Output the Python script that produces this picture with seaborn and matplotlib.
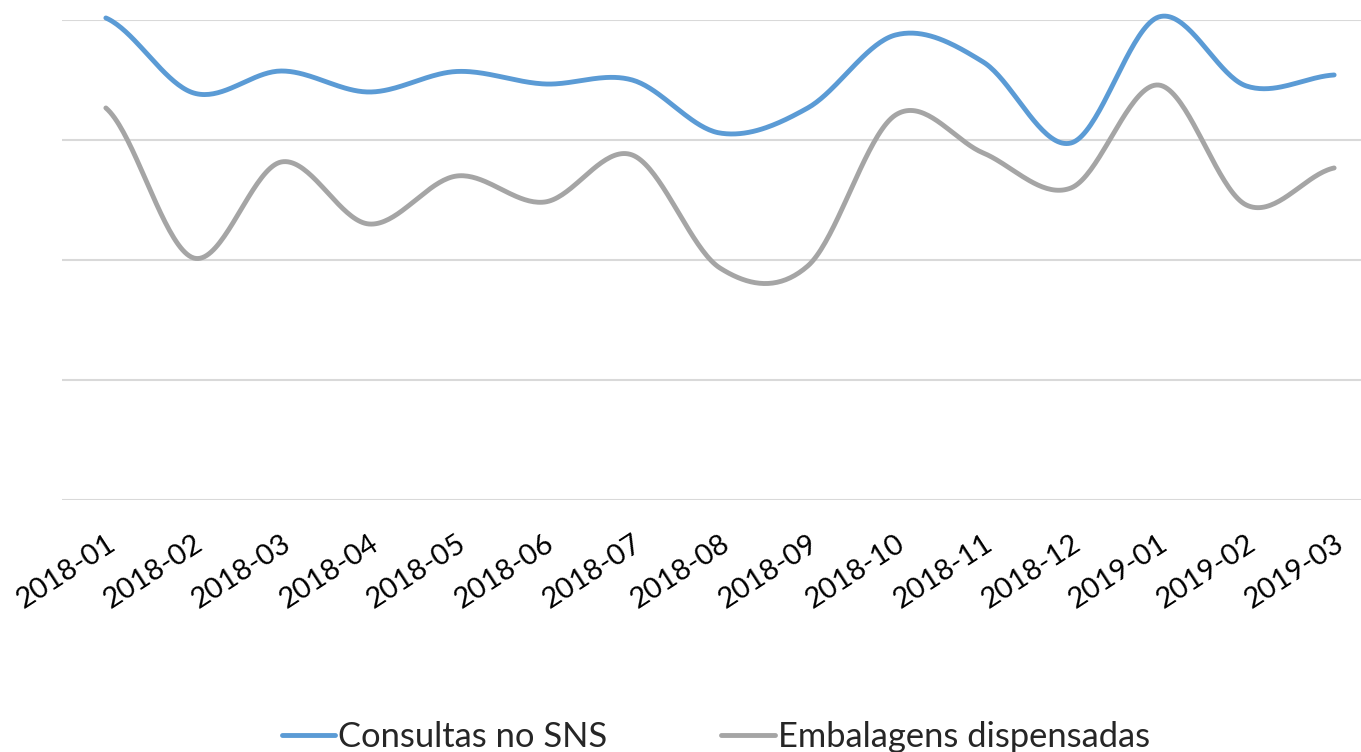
import numpy as np
import pandas as pd
import matplotlib
matplotlib.use("Agg")
import matplotlib.pyplot as plt
import seaborn as sns

months = ["2018-01", "2018-02", "2018-03", "2018-04", "2018-05", "2018-06",
          "2018-07", "2018-08", "2018-09", "2018-10", "2018-11", "2018-12",
          "2019-01", "2019-02", "2019-03"]
consultas = [4.017, 3.392, 3.575, 3.400, 3.571, 3.467, 3.500, 3.058,
             3.267, 3.875, 3.650, 2.975, 4.025, 3.450, 3.542]
embalagens = [3.267, 2.017, 2.817, 2.300, 2.700, 2.483, 2.875, 1.933,
              1.950, 3.208, 2.892, 2.600, 3.458, 2.458, 2.767]
series_names = ["Consultas no SNS", "Embalagens dispensadas"]
colors = ["#5b9bd5", "#a5a5a5"]


def smooth(vals, n=40):
    """Catmull-Rom (Excel-like) smoothing of a categorical series for rendering."""
    p = np.asarray(vals, dtype=float)
    m = len(p)
    xs, ys = [], []
    for i in range(m - 1):
        p0 = p[i - 1] if i > 0 else p[i]
        p1, p2 = p[i], p[i + 1]
        p3 = p[i + 2] if i + 2 < m else p[i + 1]
        t = np.linspace(0, 1, n, endpoint=False)
        c1 = p1 + (p2 - p0) / 6
        c2 = p2 - (p3 - p1) / 6
        y = ((1 - t) ** 3 * p1 + 3 * (1 - t) ** 2 * t * c1
             + 3 * (1 - t) * t ** 2 * c2 + t ** 3 * p2)
        xs.extend(i + t)
        ys.extend(y)
    xs.append(m - 1)
    ys.append(p[-1])
    return np.array(xs), np.array(ys)


frames = []
for name, vals in zip(series_names, [consultas, embalagens]):
    sx, sy = smooth(vals)
    frames.append(pd.DataFrame({"x": sx, "v": sy, "serie": name}))
df = pd.concat(frames, ignore_index=True)

sns.set_theme(style="white")
plt.rcParams["font.family"] = ["Lato", "DejaVu Sans"]

fig = plt.figure(figsize=(13.61, 7.52), dpi=100)
ax = fig.add_axes([62 / 1361, 252 / 752, 1316 / 1361, 480 / 752])

sns.lineplot(data=df, x="x", y="v", hue="serie", palette=colors,
             linewidth=3.5, sort=False, estimator=None, ax=ax, legend=True)
for ln in ax.lines:
    ln.set_clip_on(False)
    ln.set_solid_capstyle("round")

ax.set_xlim(-0.5, 14.5)
ax.set_ylim(0, 4)
ax.set_yticks([0, 1, 2, 3, 4])
ax.set_yticklabels([])
ax.yaxis.grid(True, color="#d9d9d9", linewidth=1.5)
ax.xaxis.grid(False)
ax.set_axisbelow(True)
for s in ax.spines.values():
    s.set_visible(False)
ax.set_xticks(range(len(months)))
ax.set_xticklabels(months, rotation=33, ha="right", va="top",
                   rotation_mode="anchor", fontsize=21, color="#000000")
ax.tick_params(axis="both", length=0)
ax.tick_params(axis="x", pad=22)
ax.set_xlabel("")
ax.set_ylabel("")

handles, labels = ax.get_legend_handles_labels()
if ax.legend_:
    ax.legend_.remove()
leg = fig.legend(handles, labels, loc="center", bbox_to_anchor=(0.526, 0.02),
                 ncol=2, frameon=False, fontsize=24.8, handlelength=1.55,
                 handletextpad=0.1, columnspacing=3.3)
for h in leg.get_lines():
    h.set_linewidth(3.5)

fig.savefig("out.png", dpi=100)
